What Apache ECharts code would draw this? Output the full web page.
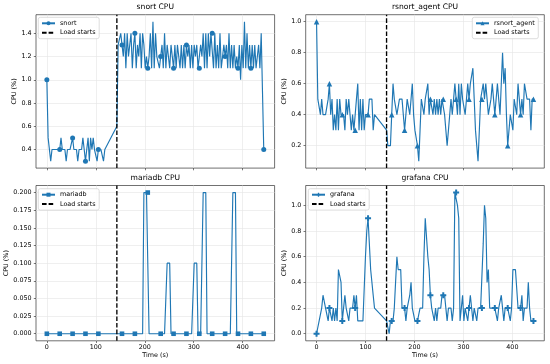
<!DOCTYPE html>
<html><head><meta charset="utf-8">
<script src="https://cdn.jsdelivr.net/npm/echarts@6/dist/echarts.min.js"></script>
<style>html,body{margin:0;padding:0;background:#fff}#c{width:550px;height:364px}</style>
</head><body><div id="c"></div>
<script>
// ---- data (time in seconds, CPU in %) ----
const timeSec = [
0,2.6,5.3,7.9,10.5,13.2,15.8,18.4,21.0,23.7,
26.3,28.9,31.6,34.2,36.8,39.5,42.1,44.7,47.3,50.0,
52.6,55.2,57.9,60.5,63.1,65.8,68.4,71.0,73.6,76.3,
78.9,81.5,84.2,86.8,89.4,92.1,94.7,97.3,99.9,102.6,
105.2,107.8,110.5,113.1,115.7,118.4,
143.0,145.6,148.3,150.9,153.5,156.2,158.8,161.4,164.1,166.7,
169.3,171.9,174.6,177.2,179.8,182.5,185.1,187.7,190.4,193.0,
195.6,198.2,200.9,203.5,206.1,208.8,211.4,214.0,216.7,219.3,
222.0,224.6,227.3,229.9,232.5,235.2,237.8,240.4,243.1,245.7,
248.3,250.9,253.6,256.2,258.8,261.5,264.1,266.7,269.4,272.0,
274.6,277.2,279.9,282.5,285.1,287.8,290.4,293.0,295.7,298.3,
300.9,303.5,306.2,308.8,311.4,314.1,316.7,319.3,322.0,324.6,
327.2,329.8,332.5,335.1,337.7,340.4,343.0,345.6,348.3,350.9,
353.6,356.2,358.9,361.5,364.1,366.8,369.4,372.0,374.7,377.3,
379.9,382.5,385.2,387.8,390.4,393.1,395.7,398.3,401.0,403.6,
406.2,408.8,411.5,414.1,416.7,419.4,422.0,424.6,427.3,429.9,
432.5,435.1,437.8,440.4,443.0
];
const snortCpu = [
1.0,0.5,0.5,0.3,0.4,0.4,0.4,0.4,0.4,0.4,
0.4,0.5,0.4,0.4,0.4,0.3,0.4,0.4,0.4,0.4,
0.5,0.4,0.4,0.4,0.3,0.4,0.4,0.4,0.5,0.4,
0.3,0.4,0.5,0.3,0.5,0.4,0.5,0.4,0.4,0.3,
0.4,0.4,0.4,0.4,0.3,0.4,
0.6,1.3,1.3,1.4,1.3,1.2,1.4,1.1,1.4,1.2,
1.3,1.4,1.1,1.3,1.4,1.1,1.3,1.2,1.4,1.1,
1.4,1.3,1.1,1.2,1.1,1.2,1.4,1.1,1.5,1.1,
1.4,1.2,1.2,1.1,1.2,1.3,1.1,1.4,1.1,1.3,
1.2,1.1,1.3,1.2,1.1,1.3,1.1,1.3,1.2,1.1,
1.3,1.1,1.3,1.1,1.3,1.2,1.3,1.1,1.3,1.1,
1.3,1.2,1.3,1.1,1.1,1.3,1.2,1.4,1.1,1.4,
1.1,1.4,1.2,1.4,1.4,1.1,1.4,1.1,1.3,1.1,
1.4,1.1,1.2,1.3,1.2,1.3,1.1,1.4,1.1,1.3,
1.1,1.3,1.1,1.2,1.1,1.3,1.0,1.3,1.1,1.5,
1.1,1.4,1.1,1.3,1.1,1.3,1.1,1.3,1.1,1.2,
1.3,1.1,1.4,0.9,0.4
];
const rsnortAgentCpu = [
1.0,0.5,0.5,0.4,0.5,0.4,0.4,0.4,0.4,0.5,
0.6,0.4,0.5,0.3,0.4,0.3,0.5,0.3,0.5,0.4,
0.4,0.4,0.3,0.5,0.4,0.5,0.5,0.3,0.4,0.3,
0.3,0.5,0.6,0.3,0.5,0.3,0.5,0.3,0.4,0.4,
0.4,0.5,0.5,0.5,0.3,0.4,
0.3,0.2,0.2,0.2,0.4,0.6,0.5,0.5,0.4,0.4,
0.5,0.5,0.5,0.4,0.3,0.3,0.5,0.5,0.4,0.5,
0.6,0.4,0.3,0.3,0.2,0.1,0.3,0.5,0.5,0.4,
0.5,0.5,0.6,0.4,0.5,0.5,0.4,0.5,0.4,0.5,
0.4,0.5,0.4,0.5,0.5,0.4,0.3,0.2,0.3,0.4,
0.5,0.4,0.5,0.6,0.5,0.4,0.6,0.4,0.6,0.5,
0.5,0.4,0.5,0.6,0.5,0.6,0.6,0.7,0.5,0.3,
0.2,0.1,0.3,0.5,0.5,0.6,0.5,0.6,0.5,0.4,
0.4,0.5,0.6,0.5,0.4,0.4,0.6,0.5,0.4,0.6,
0.8,0.6,0.7,0.4,0.2,0.2,0.4,0.4,0.3,0.5,
0.5,0.4,0.6,0.5,0.4,0.5,0.4,0.6,0.6,0.5,
0.5,0.5,0.3,0.5,0.5
];
const mariadbCpu = [
0,0,0,0,0,0,0,0,0,0,
0,0,0,0,0,0,0,0,0,0,
0,0,0,0,0,0,0,0,0,0,
0,0,0,0,0,0,0,0,0,0,
0,0,0,0,0,0,
0,0,0,0,0,0,0,0,0,0,
0,0,0,0,0,0,0,0,0,0,
0,0.2,0.2,0.2,0.2,0,0,0,0,0,
0,0,0,0,0,0,0,0,0,0.1,
0.1,0.1,0,0,0,0,0,0,0,0,
0,0,0,0,0,0,0,0,0,0,
0.1,0.1,0.1,0,0,0,0,0.2,0.2,0.2,
0,0,0,0,0,0,0,0,0,0,
0,0,0,0,0,0,0,0,0,0,
0.2,0.2,0.2,0,0,0,0,0,0,0,
0,0,0,0,0,0,0,0,0,0,
0,0,0,0,0
];
const grafanaCpu = [
0.0,0.0,0.1,0.1,0.2,0.3,0.3,0.2,0.2,0.1,
0.2,0.2,0.1,0.2,0.1,0.2,0.1,0.5,0.5,0.4,
0.1,0.2,0.3,0.2,0.2,0.1,0.2,0.2,0.2,0.3,
0.2,0.3,0.1,0.1,0.1,0.1,0.1,0.1,0.6,0.8,
0.9,0.9,0.5,0.5,0.3,0.2,
0.1,0.1,0.0,0.1,0.1,0.1,0.2,0.4,0.6,0.5,
0.5,0.5,0.2,0.2,0.2,0.1,0.2,0.2,0.3,0.4,
0.2,0.2,0.1,0.1,0.1,0.1,0.2,0.2,0.2,0.6,
0.9,0.9,0.6,0.5,0.3,0.2,0.2,0.1,0.2,0.1,
0.2,0.2,0.2,0.3,0.3,0.3,0.2,0.1,0.2,0.2,
0.2,0.1,0.2,1.1,1.1,1.0,0.9,0.1,0.2,0.3,
0.1,0.2,0.2,0.1,0.2,0.3,0.3,0.1,0.2,0.2,
0.1,0.2,0.2,0.2,0.2,0.7,1.0,0.9,0.4,0.5,
0.2,0.2,0.2,0.2,0.2,0.2,0.1,0.2,0.2,0.3,
0.2,0.1,0.2,0.2,0.2,0.2,0.1,0.2,0.5,0.5,
0.5,0.5,0.2,0.2,0.2,0.3,0.1,0.2,0.2,0.2,
0.4,0.2,0.1,0.1,0.1
];
const loadStartSec = 143;
const xTicks = [0, 100, 200, 300, 400];
const snortYTicks = [0.4, 0.6, 0.8, 1.0, 1.2, 1.4];
const rsnortYTicks = [0.2, 0.4, 0.6, 0.8, 1.0];
const mariadbYTicks = [0, 0.025, 0.05, 0.075, 0.1, 0.125, 0.15, 0.175, 0.2];
const grafanaYTicks = [0, 0.2, 0.4, 0.6, 0.8, 1.0];

// ---- chart ----
const FONT = 'DejaVu Sans';
const BLUE = '#1f77b4';
function padRange(arr) {
  const mn = Math.min.apply(null, arr), mx = Math.max.apply(null, arr), p = (mx - mn) * 0.05;
  return [mn - p, mx + p];
}
const xRange = padRange(timeSec);
const PLUS = 'path://M1,0L2,0L2,1L3,1L3,2L2,2L2,3L1,3L1,2L0,2L0,1L1,1Z';
const panels = [
  { name: 'snort', title: 'snort CPU', values: snortCpu, ticks: snortYTicks, dec: 1, symbol: 'circle', size: 5,
    grid: { left: 36, top: 14.7, width: 238.6, height: 153.4 }, legend: { left: 38.3, top: 17.3 }, showX: false },
  { name: 'rsnort_agent', title: 'rsnort_agent CPU', values: rsnortAgentCpu, ticks: rsnortYTicks, dec: 1, symbol: 'triangle', size: 5.5,
    grid: { left: 305.7, top: 14.7, width: 238.6, height: 153.4 }, legend: { right: 11.7, top: 17.3 }, showX: false },
  { name: 'mariadb', title: 'mariadb CPU', values: mariadbCpu, ticks: mariadbYTicks, dec: 3, symbol: 'rect', size: 4.6,
    grid: { left: 36, top: 185.5, width: 238.6, height: 155.3 }, legend: { left: 38.3, top: 188.7 }, showX: true },
  { name: 'grafana', title: 'grafana CPU', values: grafanaCpu, ticks: grafanaYTicks, dec: 1, symbol: PLUS, size: 6,
    grid: { left: 305.7, top: 185.5, width: 238.6, height: 155.3 }, legend: { left: 308.3, top: 188.7 }, showX: true }
];
const txt = { fontFamily: FONT, fontSize: 6.4, color: '#000' };
const option = { animation: false, backgroundColor: '#fff', grid: [], xAxis: [], yAxis: [], series: [], legend: [], title: [] };
panels.forEach(function (p, i) {
  const yR = padRange(p.values);
  option.grid.push(Object.assign({ show: true, borderColor: '#333', borderWidth: 0.7, backgroundColor: 'rgba(0,0,0,0)', containLabel: false, outerBoundsMode: 'none' }, p.grid));
  option.xAxis.push({
    type: 'value', gridIndex: i, min: xRange[0], max: xRange[1],
    axisLine: { show: false, onZero: false },
    axisTick: { show: true, length: 2.2, lineStyle: { color: '#222', width: 0.6 }, customValues: xTicks },
    axisLabel: { show: p.showX, customValues: xTicks, margin: 3.5, fontFamily: FONT, fontSize: 6.4, color: '#000' },
    splitLine: { show: true, lineStyle: { color: '#e4e4e4', width: 0.6 } },
    name: p.showX ? 'Time (s)' : '', nameLocation: 'middle', nameGap: 11.2, nameTextStyle: txt
  });
  option.yAxis.push({
    type: 'value', gridIndex: i, min: yR[0], max: yR[1],
    axisLine: { show: false, onZero: false },
    axisTick: { show: true, length: 2.2, lineStyle: { color: '#222', width: 0.6 }, customValues: p.ticks },
    axisLabel: { customValues: p.ticks, margin: 4.4, fontFamily: FONT, fontSize: 6.4, color: '#000',
      formatter: function (v) { return Number(v).toFixed(p.dec); } },
    splitLine: { show: true, lineStyle: { color: '#e4e4e4', width: 0.6 } },
    name: 'CPU (%)', nameLocation: 'middle', nameGap: 17, nameTextStyle: txt
  });
  option.series.push({
    type: 'line', name: p.name, xAxisIndex: i, yAxisIndex: i,
    data: timeSec.map(function (t, j) { return j % 10 === 0 ? [t, p.values[j]] : { value: [t, p.values[j]], symbol: 'none' }; }),
    symbol: p.symbol, symbolSize: p.size, showAllSymbol: true,
    lineStyle: { color: BLUE, width: 1.15 }, itemStyle: { color: BLUE, borderWidth: 0 },
    emphasis: { disabled: true }, silent: true, z: 2
  });
  option.series.push({
    type: 'line', name: 'Load starts', xAxisIndex: i, yAxisIndex: i,
    data: [[loadStartSec, yR[0]], [loadStartSec, yR[1]]], symbol: 'none',
    lineStyle: { color: '#000', width: 1.35, type: [4.6, 2] }, itemStyle: { color: '#000' },
    emphasis: { disabled: true }, silent: true, z: 3
  });
  option.legend.push(Object.assign({
    orient: 'vertical', selectedMode: false,
    data: [p.name, { name: 'Load starts', itemStyle: { opacity: 0 } }],
    itemWidth: 13, itemHeight: 5, itemGap: 2.4, padding: [2.5, 3.6, 2.5, 2.7],
    borderColor: '#cfcfcf', borderWidth: 0.7, borderRadius: 2, backgroundColor: 'rgba(255,255,255,0.85)',
    textStyle: { fontFamily: FONT, fontSize: 6.4, color: '#000', lineHeight: 7 }
  }, p.legend));
  option.title.push({
    text: p.title, left: p.grid.left + p.grid.width / 2, top: p.grid.top - 7.4,
    textAlign: 'center', textVerticalAlign: 'middle', padding: 0,
    textStyle: { fontFamily: FONT, fontSize: 7.6, fontWeight: 'normal', color: '#000' }
  });
});
const chart = echarts.init(document.getElementById('c'), null, { renderer: 'canvas' });
chart.setOption(option);
</script>
</body></html>
